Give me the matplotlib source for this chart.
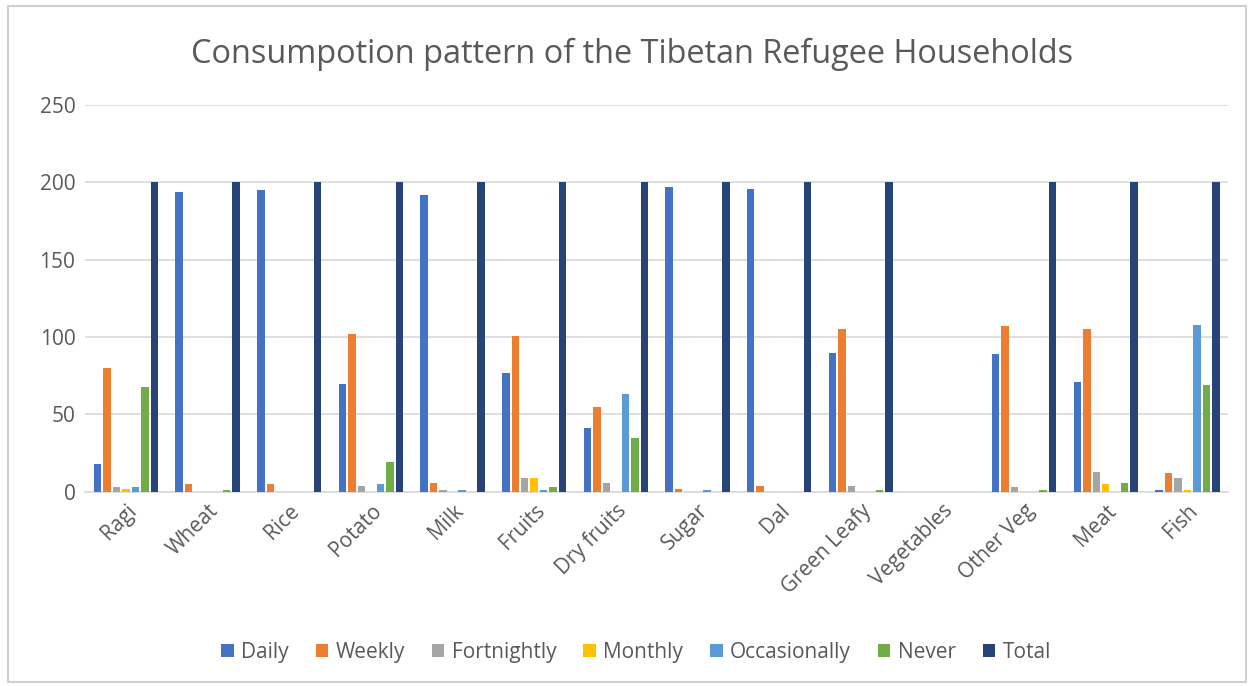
import numpy as np
import matplotlib
matplotlib.use("Agg")
import matplotlib.pyplot as plt
from matplotlib.patches import Rectangle

categories = ["Ragi", "Wheat", "Rice", "Potato", "Milk", "Fruits", "Dry fruits",
              "Sugar", "Dal", "Green Leafy", "Vegetables", "Other Veg", "Meat", "Fish"]

daily = [18, 194, 195, 70, 192, 77, 41, 197, 196, 90, 0, 89, 71, 1]
weekly = [80, 5, 5, 102, 6, 101, 55, 2, 4, 105, 0, 107, 105, 12]
fortnightly = [3, 0, 0, 4, 1, 9, 6, 0, 0, 4, 0, 3, 13, 9]
monthly = [2, 0, 0, 0, 0, 9, 0, 0, 0, 0, 0, 0, 5, 1]
occasionally = [3, 0, 0, 5, 1, 1, 63, 1, 0, 0, 0, 0, 0, 108]
never = [68, 1, 0, 19, 0, 3, 35, 0, 0, 1, 0, 1, 6, 69]
total = [200, 200, 200, 200, 200, 200, 200, 200, 200, 200, 0, 200, 200, 200]

series_names = ["Daily", "Weekly", "Fortnightly", "Monthly", "Occasionally", "Never", "Total"]
series = [daily, weekly, fortnightly, monthly, occasionally, never, total]
colors = ["#4472C4", "#ED7D31", "#A5A5A5", "#FFC000", "#5B9BD5", "#70AD47", "#264478"]

plt.rcParams['font.family'] = ['Open Sans', 'DejaVu Sans']

fig = plt.figure(figsize=(12.52, 6.86), dpi=100)
ax = fig.add_axes([0.068, 0.283, 0.913, 0.564])

x = np.arange(len(categories))
slot = 0.116
width = 0.092
for i, (name, vals, c) in enumerate(zip(series_names, series, colors)):
    offs = (i - 3) * slot
    ax.bar(x + offs, vals, width=width, color=c, label=name, zorder=3)

ax.set_xlim(-0.5, len(categories) - 0.5)
ax.set_ylim(0, 250)
ax.set_yticks(np.arange(0, 251, 50))
ax.yaxis.grid(True, color="#D9D9D9", linewidth=1.2, zorder=0)
for s in ["top", "right", "left"]:
    ax.spines[s].set_visible(False)
ax.spines["bottom"].set_color("#D9D9D9")
ax.spines["bottom"].set_linewidth(1.2)
ax.tick_params(axis="both", length=0, colors="#595959", labelsize=15)
ax.tick_params(axis="y", pad=7)
ax.tick_params(axis="x", pad=6)
ax.set_xticks(x)
ax.set_xticklabels(categories, rotation=45, ha="right", rotation_mode="anchor")

fig.suptitle("Consumpotion pattern of the Tibetan Refugee Households",
             x=0.505, y=0.945, fontsize=23.4, color="#595959")

fig.legend(loc="center", bbox_to_anchor=(0.508, 0.049), ncol=7, frameon=False,
           fontsize=15, handlelength=0.6, handleheight=0.6, handletextpad=0.35,
           columnspacing=1.3, labelcolor="#595959")

fig.patches.append(Rectangle((0.006, 0.006), 0.989, 0.985, transform=fig.transFigure,
                             fill=False, edgecolor="#D0D0D0", linewidth=1.5))

fig.savefig("out.png", dpi=100)
